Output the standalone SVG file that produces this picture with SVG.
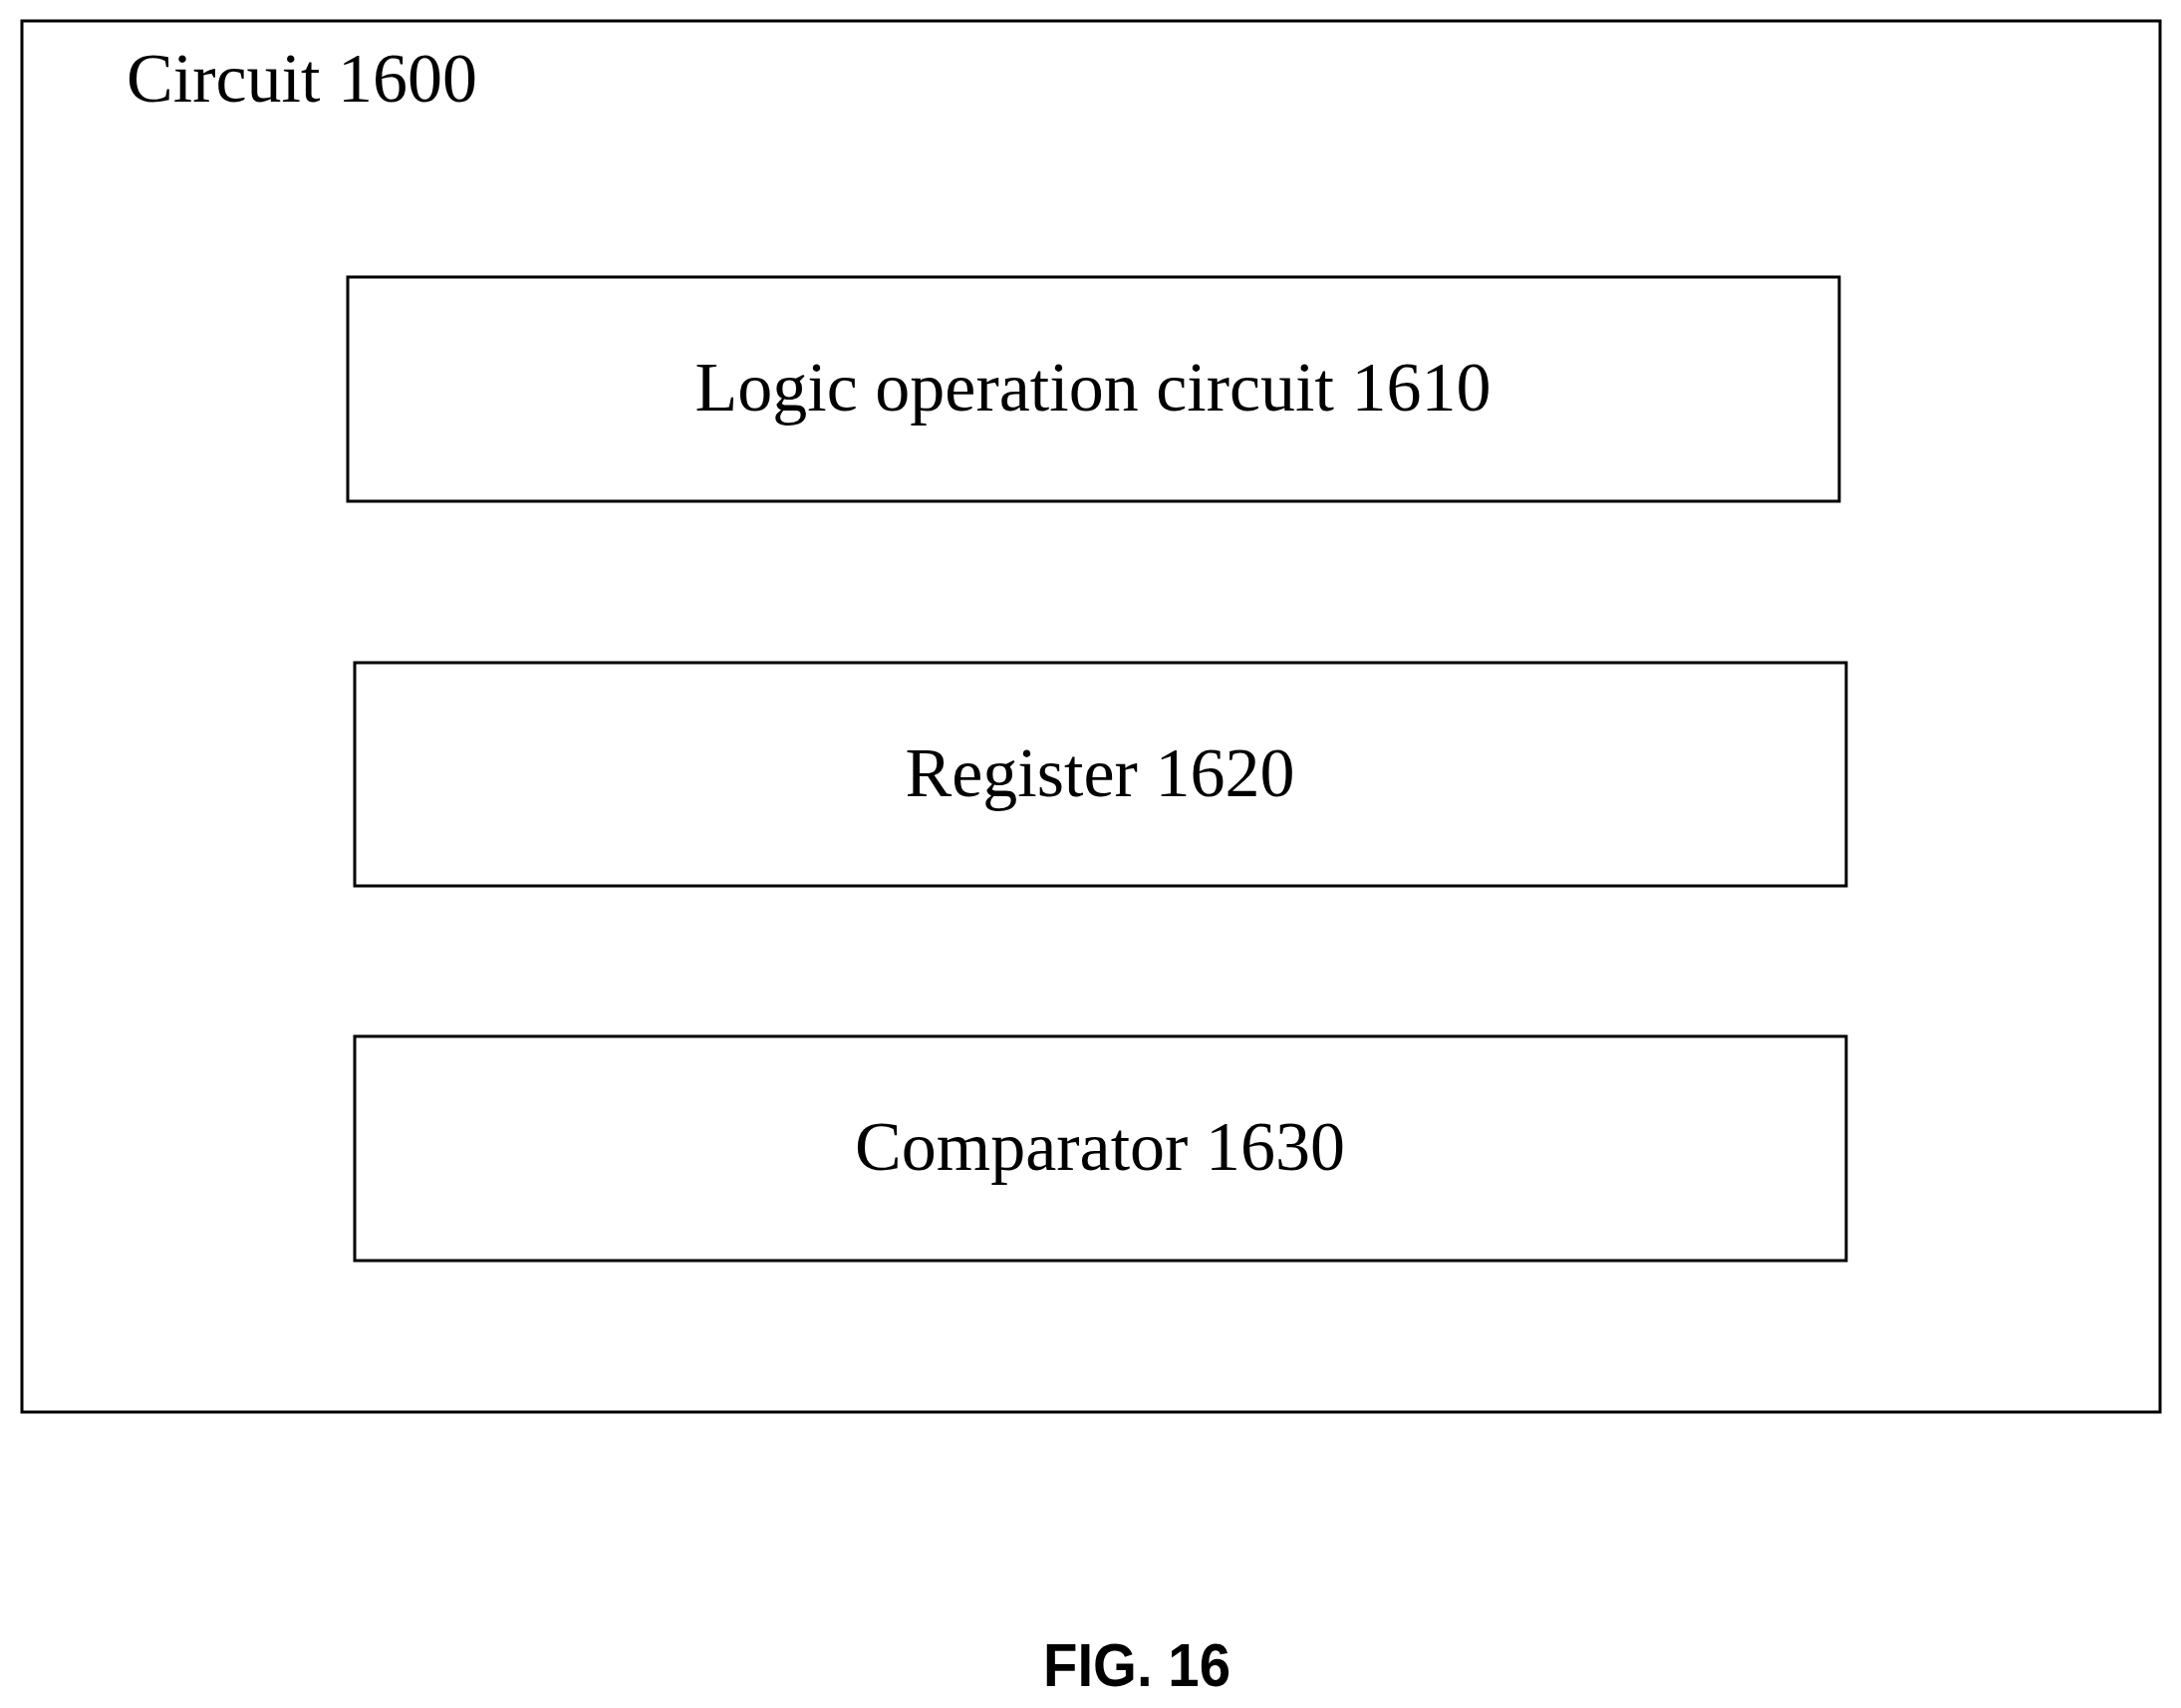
<svg xmlns="http://www.w3.org/2000/svg" width="2189" height="1714" viewBox="0 0 2189 1714">
<style>
.b{fill:none;stroke:#000;stroke-width:3}
.t{font-family:"Liberation Serif",serif;font-size:70px;fill:#000}
.c{text-anchor:middle}
</style>
<rect width="2189" height="1714" fill="#fff"/>
<g id="circuit1600"><rect class="b" x="22" y="21" width="2146" height="1396"/>
<text class="t" x="127" y="102">Circuit 1600</text></g>
<g id="logic1610"><rect class="b" x="349" y="278" width="1497" height="225"/>
<text class="t c" x="1097" y="412">Logic operation circuit 1610</text></g>
<g id="register1620"><rect class="b" x="356" y="665" width="1497" height="224"/>
<text class="t c" x="1104" y="799">Register 1620</text></g>
<g id="comparator1630"><rect class="b" x="356" y="1040" width="1497" height="225"/>
<text class="t c" x="1104" y="1174">Comparator 1630</text></g>
<g id="connectors"/>
<text x="1141" y="1692" text-anchor="middle" font-family="Liberation Sans,sans-serif" font-weight="bold" font-size="62" textLength="188" lengthAdjust="spacingAndGlyphs">FIG. 16</text>
</svg>
